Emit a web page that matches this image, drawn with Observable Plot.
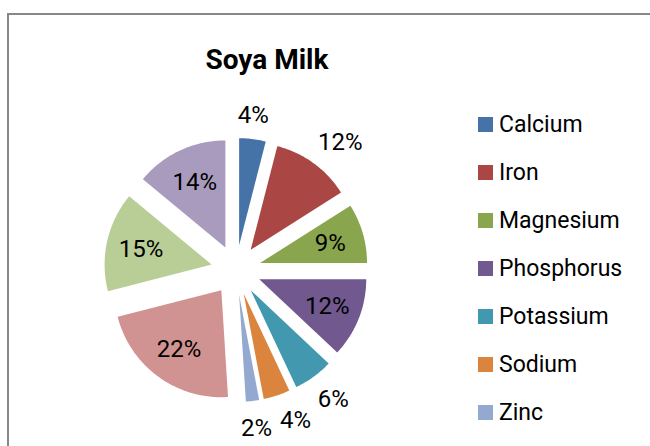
<!DOCTYPE html>
<html><head><meta charset="utf-8">
<script src="https://cdn.jsdelivr.net/npm/d3@7"></script>
<script src="https://cdn.jsdelivr.net/npm/@observablehq/plot@0.6"></script>
<style>
html,body{margin:0;padding:0;background:#fff;overflow:hidden;width:650px;height:446px;font-family:Roboto,"Open Sans",sans-serif;}
#frame{position:absolute;left:7px;top:13px;width:700px;height:500px;border:2px solid #878787;box-sizing:border-box;}
#chart{position:absolute;left:0;top:0;}
#title{position:absolute;left:0;width:534px;top:46px;text-align:center;font-weight:bold;font-size:28px;line-height:28px;color:#000;}
#legend{position:absolute;left:478px;top:100px;}
.item{display:flex;align-items:center;height:48px;font-size:23px;color:#000;}
.sw{width:15px;height:15px;margin-right:6px;}
</style></head><body>
<div id="frame"></div>
<div id="chart"></div>
<div id="title"></div>
<div id="legend"></div>
<script>
// ---- data ----
const title = "Soya Milk";
// last three categories are cut off from the visible legend (names unknown)
const categories = ["Calcium","Iron","Magnesium","Phosphorus","Potassium","Sodium","Zinc","","",""];
const values = [4,12,9,12,6,4,2,22,15,14];
const labels = ["4%","12%","9%","12%","6%","4%","2%","22%","15%","14%"];
// ---- styles ----
const colors = ["#4572A7","#AA4643","#89A54E","#71588F","#4198AF","#DB843D","#93A9CF","#D19392","#B9CD96","#A99BBD"];
const labelOutside = [true,true,false,false,true,true,true,false,false,false];
// label nudges as [angle in degrees, radial px] (best-fit placement)
const labelNudge = [[-1,-3],[3,6],[0,0],[0,0],[-1,2],[-3.5,2],[0,0],[0,0],[0,0],[0,0]];

// ---- layout ----
const W = 650, H = 446, CX = 236, CY = 270, R = 107, EXPLODE = 25;
const IN_R = EXPLODE + 0.68 * R, OUT_R = EXPLODE + R + 27;

const total = d3.sum(values);
const wedges = [], texts = [];
let acc = 0;
values.forEach((v, i) => {
  const a0 = acc / total * 2 * Math.PI;
  acc += v;
  const a1 = acc / total * 2 * Math.PI;
  const am = (a0 + a1) / 2;
  const ox = EXPLODE * Math.sin(am), oy = -EXPLODE * Math.cos(am);
  const n = Math.max(2, Math.ceil((a1 - a0) / (Math.PI / 180)));
  for (let k = 0; k <= n; k++) {
    const a = a0 + (a1 - a0) * k / n;
    wedges.push({slice: i, fill: colors[i], x1: ox, y1: oy, x2: ox + R * Math.sin(a), y2: oy - R * Math.cos(a)});
  }
  const la = am + labelNudge[i][0] * Math.PI / 180;
  const lr = (labelOutside[i] ? OUT_R : IN_R) + labelNudge[i][1];
  texts.push({text: labels[i], x: lr * Math.sin(la), y: -lr * Math.cos(la)});
});

const chart = Plot.plot({
  width: W, height: H,
  margin: 0,
  style: {background: "none", fontFamily: "Roboto, 'Open Sans', sans-serif", overflow: "visible"},
  x: {type: "linear", domain: [-CX, W - CX], range: [0, W], axis: null},
  y: {type: "linear", domain: [-CY, H - CY], range: [0, H], axis: null},
  marks: [
    Plot.area(wedges, {x1: "x1", y1: "y1", x2: "x2", y2: "y2", z: "slice", fill: "fill", curve: "linear"}),
    Plot.text(texts, {x: "x", y: "y", text: "text", fontSize: 24, fill: "#000"})
  ]
});
document.getElementById("chart").appendChild(chart);
document.getElementById("title").textContent = title;

const legend = document.getElementById("legend");
categories.forEach((c, i) => {
  if (!c) return;
  const row = document.createElement("div");
  row.className = "item";
  const sw = document.createElement("div");
  sw.className = "sw";
  sw.style.background = colors[i];
  const t = document.createElement("span");
  t.textContent = c;
  row.appendChild(sw); row.appendChild(t);
  legend.appendChild(row);
});
</script>
</body></html>
